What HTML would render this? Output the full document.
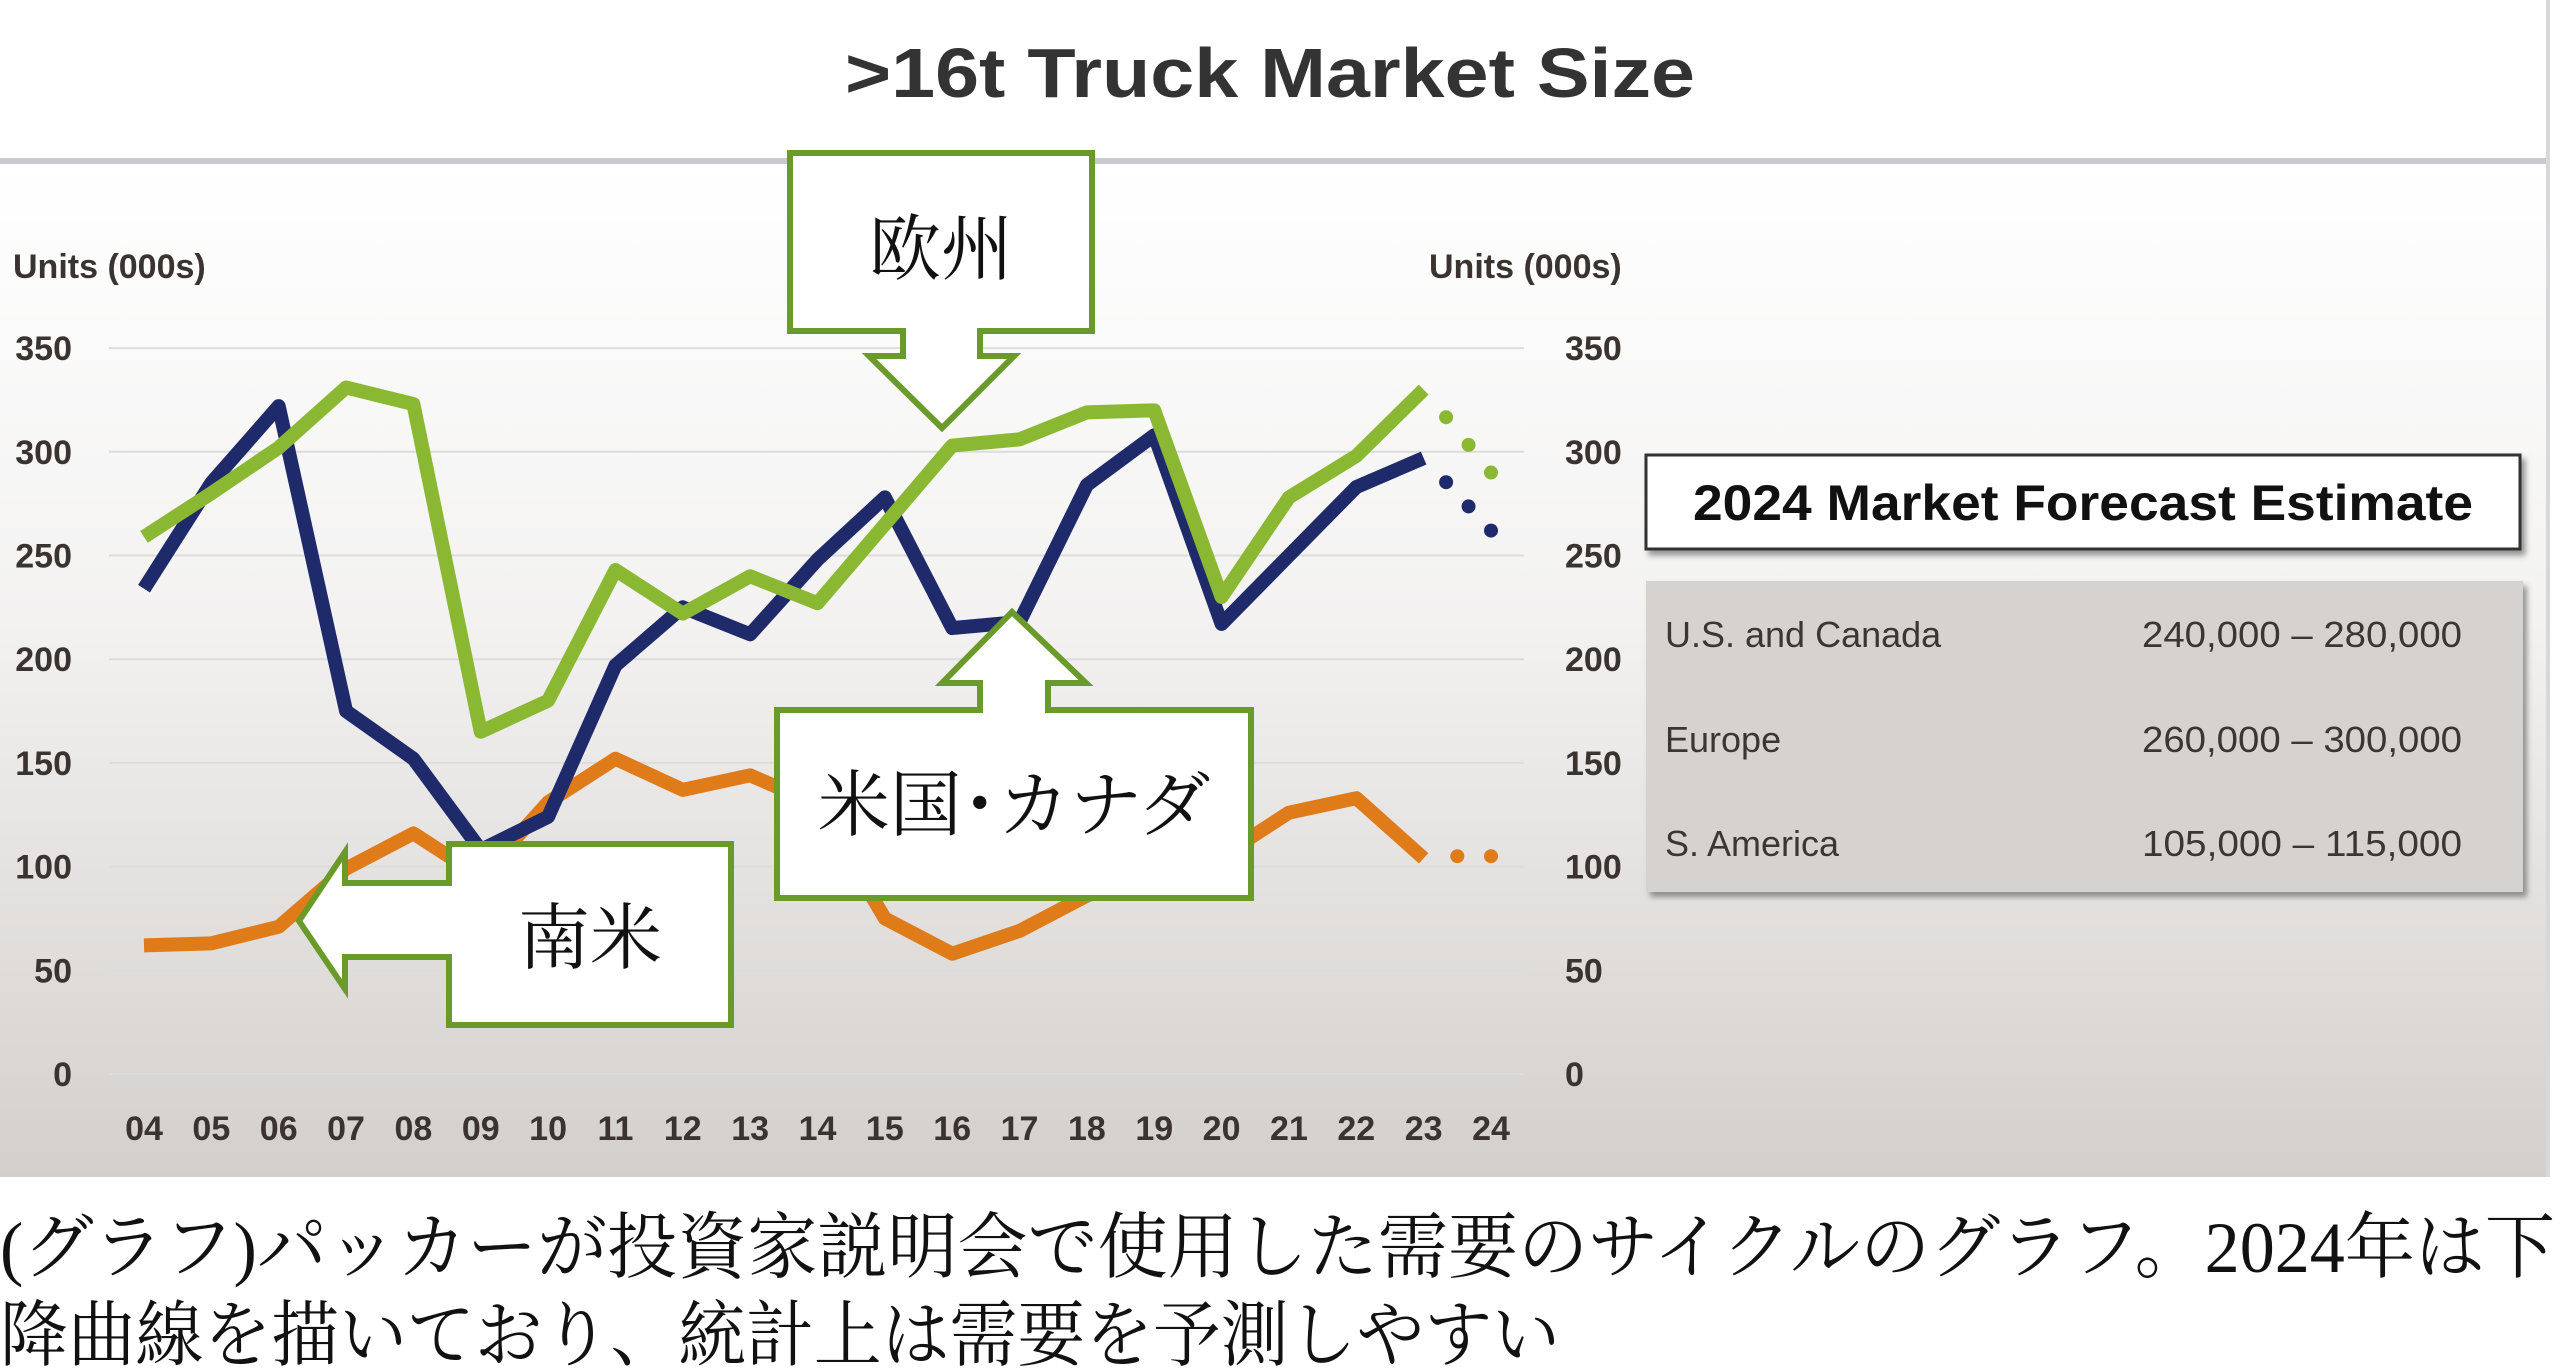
<!DOCTYPE html>
<html><head><meta charset="utf-8"><style>
html,body{margin:0;padding:0;width:2560px;height:1371px;overflow:hidden;background:#fff}
svg{display:block}
</style></head><body>
<svg width="2560" height="1371" viewBox="0 0 2560 1371" xmlns="http://www.w3.org/2000/svg">
<defs>
<linearGradient id="bg" x1="0" y1="0" x2="0" y2="1">
<stop offset="0" stop-color="#ffffff"/><stop offset="0.45" stop-color="#f3f2f1"/><stop offset="1" stop-color="#d3cfcc"/>
</linearGradient>
<filter id="sh" x="-5%" y="-5%" width="115%" height="125%"><feDropShadow dx="4" dy="5" stdDeviation="3" flood-color="#555" flood-opacity="0.6"/></filter>
</defs>
<rect x="0" y="0" width="2560" height="1371" fill="#fff"/>
<rect x="0" y="162" width="2548" height="1015" fill="url(#bg)"/>
<rect x="0" y="158" width="2548" height="6" fill="#c9c9d0"/>
<rect x="2546" y="0" width="4" height="1177" fill="#d8d8dc"/>
<text x="1270" y="97" text-anchor="middle" font-family="Liberation Sans, sans-serif" font-weight="bold" font-size="70" fill="#333" textLength="850" lengthAdjust="spacingAndGlyphs">&gt;16t Truck Market Size</text>

<g font-family="Liberation Sans, sans-serif" font-weight="bold" font-size="34" fill="#3a3330">
<text x="13" y="278">Units (000s)</text>
<text x="1429" y="278">Units (000s)</text>
</g>
<g id="grid" stroke="#dcdcdc" stroke-width="2"></g>
<g id="lt" font-family="Liberation Sans, sans-serif" font-weight="bold" font-size="34" fill="#3a3330" text-anchor="end"></g>
<g id="rt" font-family="Liberation Sans, sans-serif" font-weight="bold" font-size="34" fill="#3a3330"></g>
<g id="xt" font-family="Liberation Sans, sans-serif" font-weight="bold" font-size="34" fill="#3a3330" text-anchor="middle"></g>
<g id="series" fill="none" stroke-width="14" stroke-linejoin="round"></g>

<rect x="1646" y="455" width="874" height="94" fill="#fff" stroke="#333" stroke-width="3" filter="url(#sh)"/>
<text x="2083" y="520" text-anchor="middle" font-family="Liberation Sans, sans-serif" font-weight="bold" font-size="50" fill="#111" textLength="780" lengthAdjust="spacingAndGlyphs">2024 Market Forecast Estimate</text>
<rect x="1646" y="581" width="877" height="311" fill="#d6d2cf" filter="url(#sh)"/>
<g font-family="Liberation Sans, sans-serif" font-size="36" fill="#3a3633">
<text x="1665" y="647">U.S. and Canada</text><text x="2142" y="647" textLength="320" lengthAdjust="spacingAndGlyphs">240,000 – 280,000</text>
<text x="1665" y="752">Europe</text><text x="2142" y="752" textLength="320" lengthAdjust="spacingAndGlyphs">260,000 – 300,000</text>
<text x="1665" y="856">S. America</text><text x="2142" y="856" textLength="320" lengthAdjust="spacingAndGlyphs">105,000 – 115,000</text>
</g>

<g fill="#fff" stroke="#6a9a2a" stroke-width="6">
<path d="M790,153 H1092 V331 H980 V356 H1014 L942,428 L869,356 H903 V331 H790 Z"/>
<path d="M777,710 H980 V683 H942 L1012,612 L1086,683 H1048 V710 H1251 V898 H777 Z"/>
<path d="M449,844 H731 V1025 H449 V957 H345 V989 L299,921 L345,852 V883 H449 Z"/>
</g>
<g font-family="Liberation Serif, 'Noto Serif CJK SC', serif" font-size="72" fill="#111" text-anchor="middle">
<text x="941" y="274">欧州</text>
<text x="1014" y="830">米国･カナダ</text>
<text x="590" y="963">南米</text>
</g>

<g font-family="Liberation Serif, 'Noto Serif CJK SC', serif" font-size="72" fill="#111">
<text x="0" y="1272" textLength="2555" lengthAdjust="spacingAndGlyphs">(グラフ)パッカーが投資家説明会で使用した需要のサイクルのグラフ。2024年は下</text>
<text x="0" y="1360" textLength="1560" lengthAdjust="spacingAndGlyphs">降曲線を描いており、統計上は需要を予測しやすい</text>
</g>
</svg>
<script>
var NS="http://www.w3.org/2000/svg";
function X(i){return 144+67.35*i}
function Y(v){return 1074-v*2.074}
function el(p,t,a,txt){var e=document.createElementNS(NS,t);for(var k in a)e.setAttribute(k,a[k]);if(txt!=null)e.textContent=txt;document.getElementById(p).appendChild(e);return e}
for(var v=0;v<=350;v+=50){
 el("grid","line",{x1:109,x2:1524,y1:Y(v),y2:Y(v)});
 el("lt","text",{x:72,y:Y(v)+12},v);
 el("rt","text",{x:1565,y:Y(v)+12},v);
}
for(var i=0;i<=20;i++){var s=(i+4<10?"0":"")+(i+4);el("xt","text",{x:X(i),y:1140},s)}
var orange=[62,63,71,99,116,95,131,152,137,144,130,75,58,69,86,100,105,126,133,104];
var navy=[234,285,322,175,152,108,124,197,225,212,248,278,215,218,284,308,217,250,283,297];
var green=[259,280,302,331,323,165,180,243,222,240,227,265,303,306,319,320,230,278,298,330];
function line(d,c){var p=d.map(function(v,i){return X(i)+","+Y(v)}).join(" ");el("series","polyline",{points:p,stroke:c})}
line(orange,"#e07b1a");line(navy,"#1f2a6b");line(green,"#8ab833");
function dots(a,b,c){for(var k=1;k<=3;k++){var t=k/3;el("series","circle",{cx:X(19+t),cy:Y(a+(b-a)*t),r:7,fill:c,stroke:"none"})}}
dots(297,262,"#1f2a6b");dots(330,290,"#8ab833");
el("series","circle",{cx:X(19.5),cy:Y(105),r:7,fill:"#e07b1a",stroke:"none"});
el("series","circle",{cx:X(20),cy:Y(105),r:7,fill:"#e07b1a",stroke:"none"});
</script>
</body></html>
